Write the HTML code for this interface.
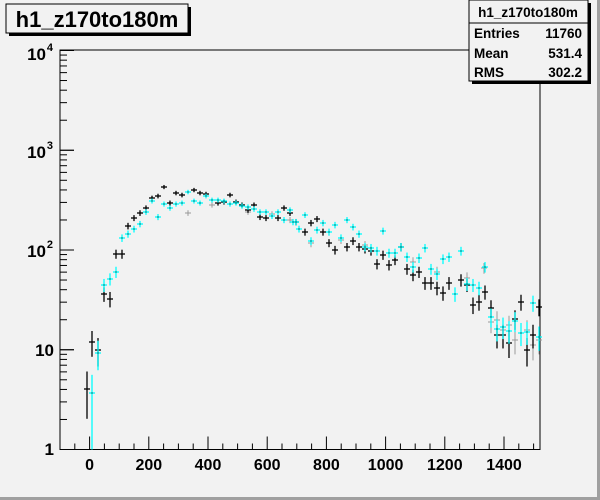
<!DOCTYPE html><html><head><style>body{margin:0;background:#f2f2f2}svg{display:block}</style></head><body>
<svg id="s" width="600" height="500" xmlns="http://www.w3.org/2000/svg" font-family="Liberation Sans, sans-serif" font-weight="bold">
<rect width="600" height="500" fill="#f2f2f2"/>
<rect x="597" y="0" width="3" height="500" fill="#a0a0a0"/>
<rect x="0" y="497" width="600" height="3" fill="#a0a0a0"/>
<rect x="60" y="50" width="480" height="399.5" fill="#f2f2f2" stroke="#000" stroke-width="1"/>
<g id="ax" stroke="#000" stroke-width="1"></g>
<g font-size="17" text-anchor="end">
<text x="54" y="455">1</text><text x="54" y="356">10</text>
<text x="46" y="257">10</text><text x="53" y="248" font-size="11">2</text>
<text x="46" y="158">10</text><text x="53" y="149" font-size="11">3</text>
<text x="46" y="60">10</text><text x="53" y="51" font-size="11">4</text>
</g>
<g font-size="16" text-anchor="middle" id="xl"></g>
<g id="d"></g>
<rect x="9" y="7" width="182" height="29" fill="#000"/>
<rect x="6" y="4" width="182" height="29" fill="#f2f2f2" stroke="#000"/>
<text x="97" y="27" font-size="22" text-anchor="middle">h1_z170to180m</text>
<rect x="472" y="3" width="119" height="81" fill="#000"/>
<rect x="469" y="0" width="119" height="81" fill="#f2f2f2" stroke="#000"/>
<line x1="469" y1="23" x2="588" y2="23" stroke="#000"/>
<g font-size="13.5"><text x="528" y="17" text-anchor="middle">h1_z170to180m</text>
<text x="474" y="38">Entries</text><text x="582" y="38" text-anchor="end">11760</text>
<text x="474" y="58">Mean</text><text x="582" y="58" text-anchor="end">531.4</text>
<text x="474" y="77">RMS</text><text x="582" y="77" text-anchor="end">302.2</text></g>
</svg>
<script>
var NS="http://www.w3.org/2000/svg";
function L(g,x1,y1,x2,y2,c,w){var l=document.createElementNS(NS,"line");l.setAttribute("x1",x1);l.setAttribute("y1",y1);l.setAttribute("x2",x2);l.setAttribute("y2",y2);l.setAttribute("stroke",c);l.setAttribute("stroke-width",w||1);g.appendChild(l);}
var ax=document.getElementById("ax"),xl=document.getElementById("xl");
function X(v){return 89.6+v*0.296;}
for(var v=-50;v<=1500;v+=50){var x=X(v);L(ax,x,449.5,x,449.5-(v%200==0?13:6),"#000");}
for(var v=0;v<=1400;v+=200){var t=document.createElementNS(NS,"text");t.setAttribute("x",X(v));t.setAttribute("y",470);t.textContent=v;xl.appendChild(t);}
for(var d=0;d<4;d++)for(var k=1;k<=10;k++){var y=449.5-(d+Math.log10(k))*99.75;L(ax,60,y,60+(k==1||k==10?14:7),y,"#000");}
var blk=[[87,389],[92,342],[98,350],[104,294],[110,299],[116,254],[122,254],[128,226],[134,218],[140,213],[146,208],[152,198],[158,196],[164,187],[170,203],[176,193],[182,195],[194,190],[200,193],[206,194],[218,203],[224,202],[230,195],[236,202],[242,205],[248,210],[254,205],[260,217],[266,218],[278,218],[284,208],[290,213],[296,222],[305,232],[311,223],[317,219],[323,232],[329,243],[335,250],[347,247],[353,241],[359,247],[365,249],[371,251],[377,264],[383,255],[389,265],[395,260],[401,247],[407,269],[413,275],[419,272],[425,283],[431,283],[437,288],[443,293],[449,283],[461,280],[467,285],[473,305],[479,302],[485,292],[491,308],[497,335],[503,335],[509,343],[515,319],[521,302],[527,350],[533,335],[539,307]];
var cy=[[92,393],[98,353],[104,285],[110,279],[116,272],[122,238],[128,234],[134,229],[140,224],[146,212],[152,201],[158,217],[164,204],[170,208],[176,204],[182,203],[188,192],[194,201],[200,203],[206,196],[212,200],[218,200],[224,201],[230,204],[236,203],[242,206],[248,207],[254,209],[260,212],[266,212],[272,216],[278,212],[284,220],[290,210],[296,222],[293,222],[299,229],[305,215],[311,241],[317,230],[323,223],[329,232],[335,225],[341,238],[347,220],[353,227],[359,234],[365,247],[371,248],[377,251],[383,231],[389,253],[395,253],[401,247],[407,257],[413,267],[419,258],[425,248],[431,269],[437,274],[443,259],[449,257],[455,294],[461,251],[467,284],[473,285],[479,288],[485,267],[491,317],[497,329],[503,327],[509,331],[515,321],[521,333],[527,332],[533,303],[539,337]];
var gr=[[158,217],[188,213],[212,205],[248,212],[272,214],[290,220],[311,243],[341,240],[365,245],[413,262],[437,272],[467,278],[484,268],[491,322],[497,320],[503,330],[509,325],[515,340],[527,330],[533,345],[539,340]];
var g=document.getElementById("d");
function draw(a,c,w){a.forEach(function(p){var x=p[0],y=p[1];var N=Math.pow(10,(449.5-y)/99.75);var up=99.75*Math.log10(1+1/Math.sqrt(N));var dn=N>1.2?-99.75*Math.log10(Math.max(1-1/Math.sqrt(N),0.001)):100;if(N<4&&c=="#00ffff")dn=100;L(g,x,Math.max(y-up,50),x,Math.min(y+dn,449.5),c,w);L(g,x-3,y,x+3,y,c,w);});}
draw(gr,"#999",1);draw(blk,"#000",1.3);draw(cy,"#00ffff",1.3);
cy.forEach(function(p){L(g,p[0],p[1]-0.5,p[0],p[1]+0.5,"#000",1);});
</script>
</body></html>
